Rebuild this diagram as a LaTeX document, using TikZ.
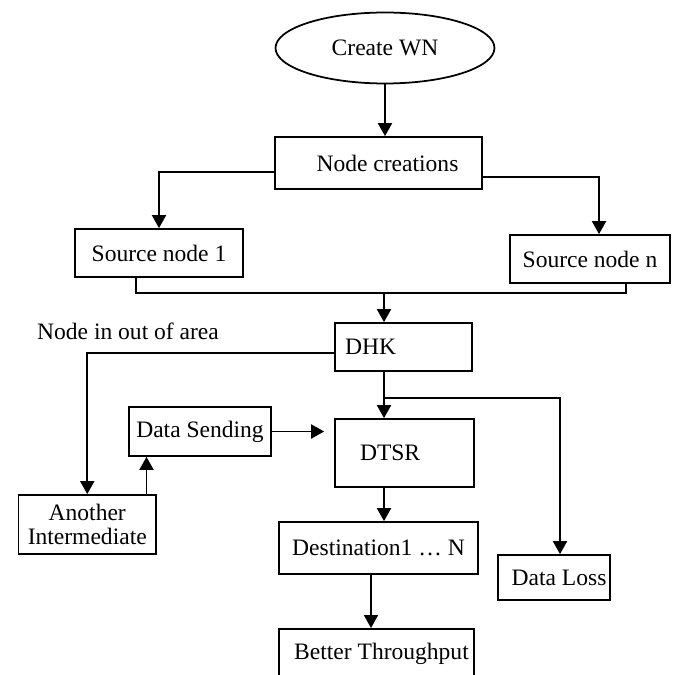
\documentclass[tikz,border=0pt]{standalone}
\usepackage{fontspec}
\setmainfont{Liberation Serif}
\usetikzlibrary{shapes.geometric,arrows.meta,positioning,calc}

\begin{document}
\begin{tikzpicture}[x=0.02cm,y=-0.02cm,line width=1pt,
  every node/.style={font=\fontsize{13.4}{14}\selectfont},
  box/.style={draw,rectangle,line width=1pt,inner sep=0pt},
  arr/.style={-{Triangle[length=7.4pt,width=8pt]}}]
  \useasboundingbox (0,0) rectangle (672,675);
  \clip (0,0) rectangle (672,675);

  % network creation and the two sources
  \node[draw,ellipse,minimum width=4.38cm,minimum height=1.42cm,inner sep=0pt] (wn) at (385,48) {Create WN};
  \node[box,minimum width=4.14cm,minimum height=1.04cm] (create) at (378.5,163) {\hspace{0.36cm}Node creations};
  \node[box,minimum width=3.36cm,minimum height=0.96cm] (src1) at (159,253) {Source node 1\hspace{0.28cm}};
  \node[box,minimum width=3.2cm,minimum height=0.96cm] (srcn) at (590,259) {Source node n};

  % routing part
  \node (out) at (128,331) {Node in out of area};
  \node[box,minimum height=0.96cm,text width=2.34cm,inner xsep=0.2cm,align=left] (dhk) at (403.5,347) {DHK};
  \node[box,minimum height=1.36cm,text width=1.78cm,inner xsep=0.5cm,align=left] (dtsr) at (404.5,453) {DTSR};
  \node[box,minimum width=2.84cm,minimum height=0.98cm] (send) at (200,431.5) {Data Sending};
  \node[box,minimum width=2.75cm,minimum height=1.18cm,align=center] (inter) at (87.25,524.5) {Another\\Intermediate};
  \node[box,minimum width=3.98cm,minimum height=1.04cm] (dest) at (378.5,548) {Destination1 … N\hspace{0.22cm}};
  \node[box,minimum width=2.23cm,minimum height=0.9cm] (loss) at (554,577.5) {\hspace{0.2cm}Data Loss};
  \node[box,minimum width=3.9cm,minimum height=1.0cm,anchor=north] (thru) at (376.5,628) {\hspace{0.2cm}Better Throughput};

  \coordinate (merge) at (384,293);
  \coordinate (fork) at (384,398);

  \draw[arr] (wn.south) -- (wn.south |- create.north);
  \draw[arr] (create.west |- 0,172) -| (src1.north);
  \draw[arr] (create.east |- 0,177) -| (599,0 |- srcn.north);
  \draw (136,0 |- src1.south) |- (merge) -| (626,0 |- srcn.south);
  \draw[arr] (merge) -- (merge |- dhk.north);
  \draw[arr] (dhk.west |- 0,353) -| (inter.north);
  \draw[arr] (dhk.south -| fork) -- (dtsr.north -| fork);
  \draw[arr] (fork) -| (560,0 |- loss.north);
  \draw[arr,shorten >=0.2cm] (send.east) -- (send.east -| dtsr.west);
  \draw[arr] (146.5,0 |- inter.north) -- (146.5,0 |- send.south);
  \draw[arr] (dtsr.south -| fork) -- (dest.north -| fork);
  \draw[arr] (371,0 |- dest.south) -- (371,0 |- thru.north);
\end{tikzpicture}
\end{document}
